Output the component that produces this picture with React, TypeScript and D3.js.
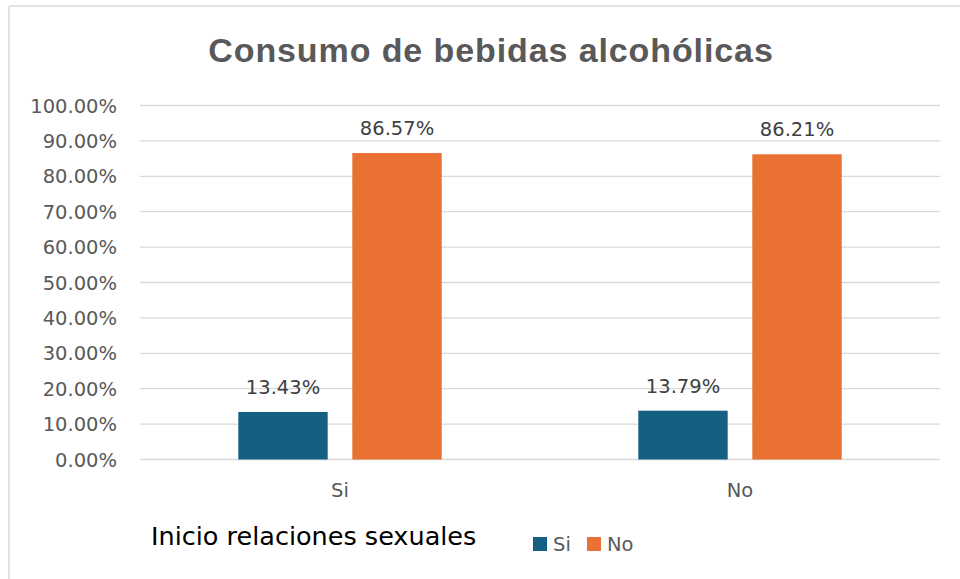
import React from "react";
import * as d3 from "d3";

const categories = ["Si", "No"];
const seriesNames = ["Si", "No"];
const seriesSi = [0.1343, 0.1379];
const seriesNo = [0.8657, 0.8621];
const yTicks = [0, 0.1, 0.2, 0.3, 0.4, 0.5, 0.6, 0.7, 0.8, 0.9, 1.0];
const colors = ["#156082", "#E97132"];
const title = "Consumo de bebidas alcohólicas";
const axisTitle = "Inicio relaciones sexuales";

const W = 960;
const H = 579;
const FONT = "'DejaVu Sans', sans-serif";

export default function App() {
  const x = d3.scaleBand<string>().domain(categories).range([140, 940]).paddingInner(0).paddingOuter(0);
  const y = d3.scaleLinear().domain([0, 1]).range([459.5, 105.5]);
  const inner = d3
    .scaleBand<string>()
    .domain(seriesNames)
    .range([98.3, 301.7])
    .paddingInner(0.216)
    .paddingOuter(0);
  const series = [seriesSi, seriesNo];
  const fmt = (v: number) => (v * 100).toFixed(2) + "%";

  return (
    <svg
      width={W}
      height={H}
      style={{ position: "absolute", left: 0, top: 0, background: "#fff" }}
    >
      <rect x={0} y={0} width={W} height={H} fill="#fff" />
      <line x1={9} y1={6} x2={960} y2={6} stroke="#d9d9d9" strokeWidth={1.5} />
      <line x1={9} y1={6} x2={9} y2={579} stroke="#d9d9d9" strokeWidth={1.5} />

      <text
        x={491}
        y={62}
        textAnchor="middle"
        fontFamily="'Liberation Sans', Arial, sans-serif"
        fontWeight="bold"
        fontSize={34}
        letterSpacing={0.9}
        fill="#595959"
      >
        {title}
      </text>

      {yTicks.map((t) => (
        <g key={t}>
          <line x1={140} x2={940} y1={y(t)} y2={y(t)} stroke="#d9d9d9" strokeWidth={1.3} />
          <text
            x={117}
            y={y(t)}
            dy="0.36em"
            textAnchor="end"
            fontFamily={FONT}
            fontSize={19.5}
            fill="#595959"
          >
            {fmt(t)}
          </text>
        </g>
      ))}

      {categories.map((c, ci) => (
        <g key={c}>
          {series.map((s, si) => {
            const bx = (x(c) as number) + (inner(seriesNames[si]) as number);
            const bw = inner.bandwidth();
            const v = s[ci];
            return (
              <g key={si}>
                <rect x={bx} y={y(v)} width={bw} height={y(0) - y(v)} fill={colors[si]} />
                <text
                  x={bx + bw / 2}
                  y={y(v) - 18}
                  textAnchor="middle"
                  fontFamily={FONT}
                  fontSize={19.5}
                  fill="#404040"
                >
                  {fmt(v)}
                </text>
              </g>
            );
          })}
          <text
            x={(x(c) as number) + x.bandwidth() / 2}
            y={497}
            textAnchor="middle"
            fontFamily={FONT}
            fontSize={19.5}
            fill="#595959"
          >
            {c}
          </text>
        </g>
      ))}

      <text x={151} y={545} fontFamily={FONT} fontSize={25.5} fill="#000">
        {axisTitle}
      </text>

      {seriesNames.map((n, i) => {
        const lx = [533, 587][i];
        return (
          <g key={n}>
            <rect x={lx} y={537} width={14} height={14} fill={colors[i]} />
            <text x={lx + 20} y={551} fontFamily={FONT} fontSize={19.5} fill="#595959">
              {n}
            </text>
          </g>
        );
      })}
    </svg>
  );
}
